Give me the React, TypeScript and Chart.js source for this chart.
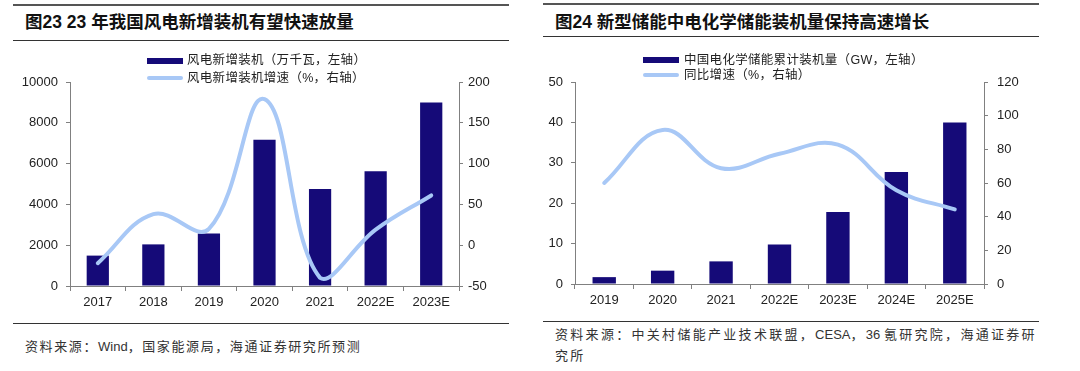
import React, { useEffect, useRef } from "react";
import { Chart, registerables } from "chart.js";

Chart.register(...registerables);

const windYears = ["2017", "2018", "2019", "2020", "2021", "2022E", "2023E"];
const windInstall = [1490, 2040, 2575, 7170, 4760, 5620, 8995];
const windGrowth = [-22, 38, 20, 179, -40, 19, 61];
const windLeftTicks = [0, 2000, 4000, 6000, 8000, 10000];
const windRightTicks = [-50, 0, 50, 100, 150, 200];

const storageYears = ["2019", "2020", "2021", "2022E", "2023E", "2024E", "2025E"];
const storageCum = [1.7, 3.3, 5.6, 9.8, 17.8, 27.7, 40];
const storageGrowth = [60, 91.5, 68.8, 77.4, 82.8, 55.7, 44.3];
const storageLeftTicks = [0, 10, 20, 30, 40, 50];
const storageRightTicks = [0, 20, 40, 60, 80, 100, 120];

const BAR = "#150a78";
const LINE = "#a8c8f6";
const AXIS = "#808080";
const TICKFONT = { family: "'Liberation Sans', Arial, sans-serif", size: 13 };

type Cfg = {
  labels: string[];
  bars: number[];
  line: number[];
  barLabel: string;
  lineLabel: string;
  leftTicks: number[];
  rightTicks: number[];
  leftW: number;
  rightW: number;
  padTop: number;
  padBottom: number;
  rightPad: number;
};

function makeChart(canvas: HTMLCanvasElement, c: Cfg) {
  const lMin = c.leftTicks[0];
  const lMax = c.leftTicks[c.leftTicks.length - 1];
  const rMin = c.rightTicks[0];
  const rMax = c.rightTicks[c.rightTicks.length - 1];
  const plain = (v: any) => String(v);
  return new Chart(canvas, {
    type: "bar",
    data: {
      labels: c.labels,
      datasets: [
        {
          type: "line",
          label: c.lineLabel,
          data: c.line,
          yAxisID: "y1",
          borderColor: LINE,
          backgroundColor: LINE,
          borderWidth: 4,
          pointRadius: 0,
          tension: 0.4,
          borderCapStyle: "round",
          order: 0,
        } as any,
        {
          type: "bar",
          label: c.barLabel,
          data: c.bars,
          yAxisID: "y",
          backgroundColor: BAR,
          categoryPercentage: 1,
          barPercentage: 0.4,
          order: 1,
        } as any,
      ],
    },
    options: {
      responsive: false,
      maintainAspectRatio: false,
      animation: false,
      layout: { padding: { top: c.padTop, bottom: c.padBottom, left: 0, right: 0 } },
      plugins: { legend: { display: false }, tooltip: { enabled: false }, title: { display: false } },
      scales: {
        x: {
          grid: { display: true, drawOnChartArea: false, drawTicks: true, tickLength: 5, color: AXIS, offset: true },
          border: { display: true, color: AXIS, width: 1 },
          ticks: { color: "#222", font: TICKFONT, padding: 4, maxRotation: 0, autoSkip: false },
          afterFit: (s: any) => { s.height = 26; },
        },
        y: {
          position: "left",
          min: lMin,
          max: lMax,
          afterBuildTicks: (s: any) => { s.ticks = c.leftTicks.map((v) => ({ value: v })); },
          grid: { display: true, drawOnChartArea: false, drawTicks: true, tickLength: 4, color: AXIS },
          border: { display: true, color: AXIS, width: 1 },
          ticks: { color: "#222", font: TICKFONT, padding: 8, callback: plain },
          afterFit: (s: any) => { s.width = c.leftW; },
        },
        y1: {
          position: "right",
          min: rMin,
          max: rMax,
          afterBuildTicks: (s: any) => { s.ticks = c.rightTicks.map((v) => ({ value: v })); },
          grid: { display: true, drawOnChartArea: false, drawTicks: true, tickLength: 4, color: AXIS },
          border: { display: true, color: AXIS, width: 1 },
          ticks: { color: "#222", font: TICKFONT, padding: c.rightPad, callback: plain },
          afterFit: (s: any) => { s.width = c.rightW; },
        },
      },
    } as any,
  });
}

function Panel(props: { cfg: Cfg; left: number }) {
  const ref = useRef<HTMLCanvasElement>(null);
  useEffect(() => {
    if (!ref.current) return;
    const ch = makeChart(ref.current, props.cfg);
    return () => ch.destroy();
  }, []);
  return (
    <canvas
      ref={ref}
      width={540}
      height={280}
      style={{ position: "absolute", left: props.left, top: 40, width: 540, height: 280 }}
    />
  );
}

const titleStyle: React.CSSProperties = {
  position: "absolute",
  fontFamily: "'Liberation Sans', 'Noto Sans CJK SC', sans-serif",
  fontWeight: 700,
  fontSize: 17.5,
  color: "#111",
  whiteSpace: "nowrap",
  lineHeight: "20px",
};

const legendText: React.CSSProperties = {
  position: "absolute",
  fontFamily: "'Liberation Sans', 'Noto Sans CJK SC', sans-serif",
  fontSize: 12.5,
  letterSpacing: "0.3px",
  color: "#222",
  whiteSpace: "nowrap",
  lineHeight: "16px",
};

const sourceStyle: React.CSSProperties = {
  position: "absolute",
  fontFamily: "'Liberation Sans', 'Noto Sans CJK SC', sans-serif",
  fontSize: 13,
  letterSpacing: "1.6px",
  color: "#333",
  whiteSpace: "nowrap",
  lineHeight: "21px",
};

const latin: React.CSSProperties = { letterSpacing: 0 };

function Rule(p: { x: number; y: number; w: number; h: number; c?: string }) {
  return (
    <div style={{ position: "absolute", left: p.x, top: p.y, width: p.w, height: p.h, background: p.c || "#444" }} />
  );
}

export default function App() {
  const leftCfg: Cfg = {
    labels: windYears,
    bars: windInstall,
    line: windGrowth,
    barLabel: "风电新增装机（万千瓦，左轴）",
    lineLabel: "风电新增装机增速（%，右轴）",
    leftTicks: windLeftTicks,
    rightTicks: windRightTicks,
    leftW: 70,
    rightW: 81,
    padTop: 42,
    padBottom: 8,
    rightPad: 5,
  };
  const rightCfg: Cfg = {
    labels: storageYears,
    bars: storageCum,
    line: storageGrowth,
    barLabel: "中国电化学储能累计装机量（GW，左轴）",
    lineLabel: "同比增速（%，右轴）",
    leftTicks: storageLeftTicks,
    rightTicks: storageRightTicks,
    leftW: 35,
    rightW: 96,
    padTop: 42,
    padBottom: 10,
    rightPad: 9,
  };
  return (
    <div style={{ position: "absolute", left: 0, top: 0, width: 1080, height: 371, background: "#fff", overflow: "hidden" }}>
      {/* left panel */}
      <Rule x={13} y={4} w={496} h={2} c="#555" />
      <div style={{ ...titleStyle, left: 25, top: 12 }}>图23 23 年我国风电新增装机有望快速放量</div>
      <Rule x={13} y={40} w={496} h={1} c="#333" />
      <Panel cfg={leftCfg} left={0} />
      <div style={{ position: "absolute", left: 147, top: 58, width: 36, height: 6, background: BAR }} />
      <div style={{ ...legendText, left: 187, top: 52 }}>风电新增装机（万千瓦，左轴）</div>
      <div style={{ position: "absolute", left: 147, top: 76, width: 36, height: 4, background: LINE, borderRadius: 2 }} />
      <div style={{ ...legendText, left: 187, top: 70 }}>风电新增装机增速（%，右轴）</div>
      <Rule x={13} y={323} w={496} h={1} c="#333" />
      <div style={{ ...sourceStyle, left: 25, top: 336 }}>
        资料来源：<span style={latin}>Wind</span>，国家能源局，海通证券研究所预测
      </div>

      {/* right panel */}
      <Rule x={543} y={3} w={496} h={2} c="#555" />
      <div style={{ ...titleStyle, left: 555, top: 12 }}>图24 新型储能中电化学储能装机量保持高速增长</div>
      <Rule x={543} y={36} w={496} h={1} c="#333" />
      <Panel cfg={rightCfg} left={540} />
      <div style={{ position: "absolute", left: 643, top: 57, width: 36, height: 6, background: BAR }} />
      <div style={{ ...legendText, left: 684, top: 52 }}>中国电化学储能累计装机量（GW，左轴）</div>
      <div style={{ position: "absolute", left: 643, top: 73, width: 36, height: 4, background: LINE, borderRadius: 2 }} />
      <div style={{ ...legendText, left: 684, top: 67 }}>同比增速（%，右轴）</div>
      <Rule x={543} y={321} w={496} h={1} c="#333" />
      <div style={{ ...sourceStyle, letterSpacing: "2.3px", left: 555, top: 324 }}>
        资料来源：中关村储能产业技术联盟，<span style={latin}>CESA</span>，<span style={latin}>36 </span>氪研究院，海通证券研
        <br />
        究所
      </div>
    </div>
  );
}
